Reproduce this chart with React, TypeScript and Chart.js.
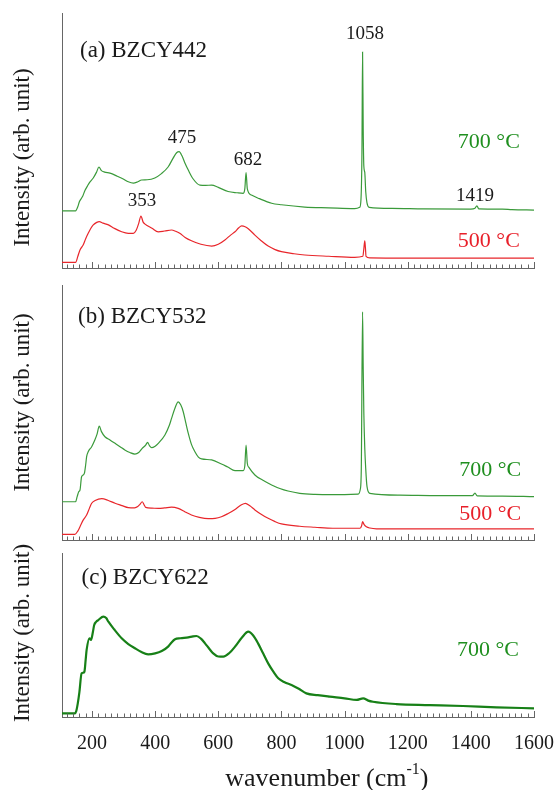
import React, { useEffect, useRef } from 'react';
import { Chart, registerables } from 'chart.js';

Chart.register(...registerables);

const FONT = "'Liberation Serif', 'Times New Roman', Times, serif";
const AXIS_COLOR = '#666666';
const TEXT_COLOR = '#1a1a1a';
const GREEN_LINE = '#3a9a3a';
const GREEN_DARK = '#178017';
const GREEN_TEXT = '#1f8f1f';
const RED_LINE = '#e8262b';
const RED_TEXT = '#e8202a';

const X_MIN = 105;
const X_MAX = 1600;
const Y_TITLE = 'Intensity (arb. unit)';
const X_TITLE_BASE = 'wavenumber (cm';
const X_TITLE_SUP = '-1';
const X_TITLE_END = ')';

// ---------- Panel (a) BZCY442 ----------
const a700X = [105, 148, 155, 160, 170, 178, 185, 192, 204, 214, 222, 230, 240, 257, 280, 299, 315, 331, 345, 357, 375, 399, 420, 441, 457, 468, 476, 485, 495, 505, 520, 542, 560, 579, 600, 631, 660, 679, 684, 688, 692, 705, 730, 769, 800, 874, 950, 1032, 1048, 1052, 1055, 1057, 1059, 1061, 1064, 1067, 1071, 1078, 1150, 1250, 1400, 1413, 1419, 1425, 1500, 1530, 1600];
const a700Y = [22.4, 22.4, 24.0, 26.0, 28.0, 30.5, 32.0, 33.5, 35.3, 37.5, 39.6, 38.2, 37.6, 37.2, 36.0, 34.9, 33.8, 33.3, 33.8, 34.5, 34.6, 35.3, 37.0, 39.6, 43.1, 45.2, 45.6, 44.0, 41.0, 38.4, 35.0, 32.5, 32.4, 32.5, 31.6, 30.0, 29.5, 29.3, 31.0, 37.4, 31.0, 28.6, 27.2, 25.4, 24.8, 23.9, 23.6, 23.3, 23.8, 27.0, 45.0, 84.7, 55.0, 40.0, 37.5, 30.0, 25.5, 23.8, 23.4, 23.2, 23.1, 23.4, 24.4, 23.2, 23.1, 22.9, 22.7];

const a500X = [105, 148, 155, 162, 172, 180, 188, 196, 204, 215, 223, 235, 252, 270, 294, 315, 331, 340, 348, 355, 362, 368, 390, 410, 430, 452, 465, 478, 495, 515, 545, 579, 600, 621, 640, 653, 665, 674, 685, 695, 716, 735, 758, 780, 800, 840, 874, 950, 1032, 1058, 1061, 1064, 1066, 1068, 1080, 1200, 1400, 1600];
const a500Y = [2.2, 2.2, 4.5, 7.1, 9.0, 11.5, 13.6, 15.5, 16.9, 17.9, 18.2, 17.6, 16.9, 15.6, 14.2, 13.6, 13.6, 14.8, 17.5, 20.4, 18.0, 17.2, 15.6, 14.2, 14.5, 14.9, 14.4, 13.6, 12.0, 10.7, 9.3, 8.6, 9.3, 11.0, 13.0, 14.2, 15.8, 16.5, 16.2, 15.4, 12.9, 10.8, 8.6, 7.2, 6.4, 5.6, 5.1, 4.6, 4.2, 4.6, 7.5, 10.6, 8.0, 4.6, 4.0, 3.9, 3.9, 3.9];

// ---------- Panel (b) BZCY532 ----------
const b700X = [105, 148, 153, 158, 162, 167, 172, 176, 180, 183, 188, 199, 209, 216, 223, 230, 241, 257, 273, 290, 304, 320, 336, 348, 359, 370, 376, 382, 389, 400, 410, 431, 445, 452, 463, 473, 481, 489, 497, 505, 515, 526, 537, 547, 579, 610, 630, 653, 679, 684, 688, 692, 697, 716, 740, 769, 795, 821, 858, 906, 963, 1043, 1050, 1053, 1057, 1059, 1061, 1064, 1067, 1071, 1080, 1175, 1300, 1405, 1413, 1420, 1500, 1600];
const b700Y = [15.0, 15.0, 17.0, 18.9, 19.6, 24.8, 25.5, 26.2, 29.5, 32.7, 34.6, 36.6, 39.2, 41.5, 44.7, 42.5, 40.5, 39.2, 37.9, 36.5, 35.3, 34.3, 33.7, 34.3, 35.9, 37.2, 38.3, 37.0, 36.2, 36.8, 37.9, 41.2, 45.0, 47.7, 51.8, 54.2, 53.0, 50.3, 46.0, 41.8, 37.5, 34.6, 32.5, 31.8, 31.4, 29.8, 28.6, 27.2, 27.2, 29.0, 37.2, 30.0, 28.5, 25.5, 23.5, 21.6, 20.2, 19.2, 18.3, 17.9, 17.8, 18.0, 20.0, 28.0, 89.5, 68.0, 50.0, 36.0, 28.0, 21.0, 18.3, 17.6, 17.4, 17.4, 18.4, 17.3, 17.2, 17.0];

const b500X = [105, 146, 155, 162, 172, 183, 192, 199, 210, 231, 250, 273, 295, 315, 335, 345, 352, 359, 365, 370, 390, 410, 430, 452, 473, 495, 515, 540, 568, 590, 610, 630, 653, 672, 686, 700, 716, 737, 758, 780, 800, 858, 906, 963, 1049, 1054, 1057, 1062, 1069, 1080, 1101, 1600];
const b500Y = [2.2, 2.2, 3.5, 5.2, 7.8, 9.8, 12.5, 14.4, 15.5, 16.2, 15.6, 14.4, 13.5, 12.7, 12.6, 13.1, 14.0, 15.0, 13.8, 12.8, 12.5, 12.4, 12.6, 12.9, 12.4, 11.0, 9.8, 8.9, 8.4, 8.5, 9.1, 10.3, 12.0, 13.7, 14.4, 13.4, 11.8, 10.0, 8.5, 7.2, 6.3, 5.4, 5.0, 4.6, 4.6, 5.6, 7.2, 6.0, 5.2, 4.7, 4.4, 4.4];

// ---------- Panel (c) BZCY622 ----------
const c700X = [105, 146, 150, 155, 160, 167, 172, 176, 180, 183, 192, 197, 203, 207, 213, 220, 236, 245, 252, 270, 294, 315, 336, 355, 378, 400, 421, 441, 452, 463, 480, 505, 520, 531, 545, 558, 572, 584, 600, 616, 635, 653, 675, 695, 710, 726, 742, 758, 775, 790, 810, 832, 855, 879, 915, 953, 1000, 1038, 1059, 1075, 1090, 1164, 1270, 1375, 1481, 1600];
const c700Y = [2.2, 2.2, 3.5, 8.3, 15.0, 26.6, 27.0, 27.6, 35.0, 40.9, 48.0, 47.0, 52.0, 56.1, 58.0, 59.1, 61.2, 60.3, 58.1, 53.5, 48.0, 44.5, 41.9, 39.8, 38.2, 38.8, 40.2, 42.9, 45.5, 47.4, 48.0, 48.6, 49.2, 49.4, 47.8, 44.9, 41.5, 38.8, 36.9, 36.8, 39.0, 42.9, 48.5, 52.0, 49.8, 44.9, 38.8, 32.7, 27.5, 23.6, 21.2, 19.5, 17.2, 14.4, 13.3, 12.4, 11.4, 10.4, 11.4, 10.0, 9.3, 7.9, 7.3, 6.7, 5.9, 5.3];

// ---------- Text annotations (x in cm-1, y in intensity units) ----------
type Label = { text: string; x: number; y: number; color: string; size: number; align: CanvasTextAlign };

const panelALabels: Label[] = [
  { text: '(a) BZCY442', x: 162, y: 85.1, color: TEXT_COLOR, size: 23, align: 'left' },
  { text: '1058', x: 1065, y: 91.6, color: TEXT_COLOR, size: 19, align: 'center' },
  { text: '475', x: 485, y: 50.8, color: TEXT_COLOR, size: 19, align: 'center' },
  { text: '682', x: 694, y: 42.4, color: TEXT_COLOR, size: 19, align: 'center' },
  { text: '353', x: 358, y: 26.3, color: TEXT_COLOR, size: 19, align: 'center' },
  { text: '1419', x: 1413, y: 28.2, color: TEXT_COLOR, size: 19, align: 'center' },
  { text: '700 \u00B0C', x: 1457, y: 49.4, color: GREEN_TEXT, size: 22, align: 'center' },
  { text: '500 \u00B0C', x: 1457, y: 10.4, color: RED_TEXT, size: 22, align: 'center' },
];
const panelBLabels: Label[] = [
  { text: '(b) BZCY532', x: 156, y: 87.3, color: TEXT_COLOR, size: 23, align: 'left' },
  { text: '700 \u00B0C', x: 1461, y: 27.5, color: GREEN_TEXT, size: 22, align: 'center' },
  { text: '500 \u00B0C', x: 1461, y: 10.2, color: RED_TEXT, size: 22, align: 'center' },
];
const panelCLabels: Label[] = [
  { text: '(c) BZCY622', x: 167, y: 85.0, color: TEXT_COLOR, size: 23, align: 'left' },
  { text: '700 \u00B0C', x: 1454, y: 40.9, color: GREEN_TEXT, size: 22, align: 'center' },
];

// x-axis title centre (in cm-1) and offset below the axis line (px)
const X_TITLE_AT = 944;
const X_TITLE_OFFSET = 62;

type Series = { xs: number[]; ys: number[]; color: string; width: number };

const innerTicks = {
  id: 'innerTicks',
  afterDraw(chart: any) {
    const xs = chart.scales.x;
    const { ctx, chartArea } = chart;
    ctx.save();
    ctx.strokeStyle = AXIS_COLOR;
    ctx.lineWidth = 1;
    ctx.beginPath();
    const start = Math.ceil(xs.min / 20) * 20;
    for (let v = start; v <= xs.max + 0.001; v += 20) {
      const px = Math.round(xs.getPixelForValue(v)) + 0.5;
      const len = v % 200 === 0 ? 6 : 3.5;
      ctx.moveTo(px, chartArea.bottom);
      ctx.lineTo(px, chartArea.bottom - len);
    }
    ctx.stroke();
    ctx.restore();
  },
};

function makeTextPlugin(labels: Label[], yShift: number, showXTitle: boolean) {
  return {
    id: 'panelText',
    afterDatasetsDraw(chart: any) {
      const { ctx, chartArea, scales } = chart;
      ctx.save();
      ctx.textBaseline = 'middle';
      for (const l of labels) {
        ctx.font = `${l.size}px ${FONT}`;
        ctx.fillStyle = l.color;
        ctx.textAlign = l.align;
        ctx.fillText(l.text, scales.x.getPixelForValue(l.x), scales.y.getPixelForValue(l.y));
      }
      if (showXTitle) {
        const big = `26px ${FONT}`;
        const small = `16px ${FONT}`;
        ctx.font = big;
        const w1 = ctx.measureText(X_TITLE_BASE).width;
        const w3 = ctx.measureText(X_TITLE_END).width;
        ctx.font = small;
        const w2 = ctx.measureText(X_TITLE_SUP).width;
        const total = w1 + w2 + w3;
        const cx = scales.x.getPixelForValue(X_TITLE_AT);
        const cy = chartArea.bottom + X_TITLE_OFFSET;
        let x0 = cx - total / 2;
        ctx.textAlign = 'left';
        ctx.fillStyle = TEXT_COLOR;
        ctx.font = big;
        ctx.fillText(X_TITLE_BASE, x0, cy);
        x0 += w1;
        ctx.font = small;
        ctx.fillText(X_TITLE_SUP, x0, cy - 9);
        x0 += w2;
        ctx.font = big;
        ctx.fillText(X_TITLE_END, x0, cy);
      }
      // y-axis title
      ctx.translate(chartArea.left - 39, (chartArea.top + chartArea.bottom) / 2 + yShift);
      ctx.rotate(-Math.PI / 2);
      ctx.textAlign = 'center';
      ctx.font = `23px ${FONT}`;
      ctx.fillStyle = TEXT_COLOR;
      ctx.fillText(Y_TITLE, 0, 0);
      ctx.restore();
    },
  };
}

type PanelProps = {
  top: number;
  height: number;
  padTop: number;
  padBottom: number;
  series: Series[];
  labels: Label[];
  yShift: number;
  showX: boolean;
};

function Panel({ top, height, padTop, padBottom, series, labels, yShift, showX }: PanelProps) {
  const ref = useRef<HTMLCanvasElement | null>(null);
  useEffect(() => {
    if (!ref.current) return;
    const chart = new Chart(ref.current, {
      type: 'line',
      data: {
        datasets: series.map((s) => ({
          data: s.xs.map((x, i) => ({ x, y: s.ys[i] })),
          borderColor: s.color,
          borderWidth: s.width,
          pointRadius: 0,
          fill: false,
          cubicInterpolationMode: 'monotone' as const,
        })),
      },
      options: {
        animation: false,
        responsive: false,
        events: [],
        layout: { padding: { left: 62, right: 23, top: padTop, bottom: padBottom } },
        plugins: { legend: { display: false }, tooltip: { enabled: false } },
        scales: {
          x: {
            type: 'linear',
            min: X_MIN,
            max: X_MAX,
            grid: { display: false, drawTicks: false },
            border: { display: true, color: AXIS_COLOR, width: 1 },
            afterFit: (scale: any) => {
              scale.paddingLeft = 0;
              scale.paddingRight = 0;
              if (showX) scale.height = 78;
            },
            ticks: {
              display: showX,
              stepSize: 20,
              autoSkip: false,
              maxRotation: 0,
              minRotation: 0,
              padding: 15,
              color: TEXT_COLOR,
              font: { family: FONT, size: 20, lineHeight: 1.2 },
              callback: (v: any) => (Number(v) % 200 === 0 ? String(v) : ''),
            },
            title: { display: false },
          },
          y: {
            type: 'linear',
            min: 0,
            max: 100,
            grid: { display: false, drawTicks: false },
            border: { display: true, color: AXIS_COLOR, width: 1 },
            ticks: { display: false },
            title: { display: false },
          },
        },
      } as any,
      plugins: [innerTicks, makeTextPlugin(labels, yShift, showX)],
    });
    return () => chart.destroy();
  }, []);
  return (
    <canvas
      ref={ref}
      width={557}
      height={height}
      style={{ position: 'absolute', left: 0, top, width: 557, height, display: 'block' }}
    />
  );
}

export default function App() {
  return (
    <div
      style={{
        position: 'absolute',
        left: 0,
        top: 0,
        width: 557,
        height: 790,
        overflow: 'hidden',
        background: '#ffffff',
      }}
    >
      <Panel
        top={0}
        height={275}
        padTop={13}
        padBottom={7}
        series={[
          { xs: a700X, ys: a700Y, color: GREEN_LINE, width: 1.2 },
          { xs: a500X, ys: a500Y, color: RED_LINE, width: 1.2 },
        ]}
        labels={panelALabels}
        yShift={17}
        showX={false}
      />
      <Panel
        top={275}
        height={270}
        padTop={10}
        padBottom={5}
        series={[
          { xs: b700X, ys: b700Y, color: GREEN_LINE, width: 1.2 },
          { xs: b500X, ys: b500Y, color: RED_LINE, width: 1.2 },
        ]}
        labels={panelBLabels}
        yShift={-10}
        showX={false}
      />
      <Panel
        top={535}
        height={260}
        padTop={18}
        padBottom={0}
        series={[{ xs: c700X, ys: c700Y, color: GREEN_DARK, width: 2.2 }]}
        labels={panelCLabels}
        yShift={-2}
        showX={true}
      />
    </div>
  );
}
